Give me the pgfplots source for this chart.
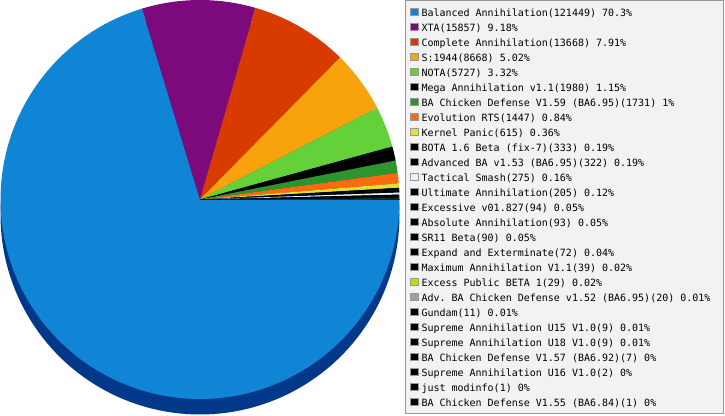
\documentclass[border=0pt]{standalone}
\usepackage{fontspec}
\setmonofont{DejaVu Sans Mono}
\usepackage{pgfplots}
\pgfplotsset{compat=1.18}
\usepackage{pgfplotstable}

\definecolor{cblue}{RGB}{16,133,213}
\definecolor{cshell}{RGB}{2,56,138}
\definecolor{cpurple}{RGB}{125,10,125}
\definecolor{cred}{RGB}{217,58,0}
\definecolor{corange}{RGB}{248,162,12}
\definecolor{cgreen}{RGB}{100,208,58}
\definecolor{cdgreen}{RGB}{46,148,46}
\definecolor{corangeb}{RGB}{255,106,16}
\definecolor{cyellow}{RGB}{224,224,48}
\definecolor{cwhite}{RGB}{240,240,240}
\definecolor{cygreen}{RGB}{190,224,0}
\definecolor{cgray}{RGB}{160,160,160}
\definecolor{cblack}{RGB}{0,0,0}
\definecolor{lgfill}{RGB}{242,242,242}
\definecolor{lgdraw}{RGB}{152,152,152}

% count and colour of each slice, in legend order
\pgfplotstableread{
count col
121449 cblue
15857 cpurple
13668 cred
8668 corange
5727 cgreen
1980 cblack
1731 cdgreen
1447 corangeb
615 cyellow
333 cblack
322 cblack
275 cwhite
205 cblack
94 cblack
93 cblack
90 cblack
72 cblack
39 cblack
29 cygreen
20 cgray
11 cblack
9 cblack
9 cblack
7 cblack
2 cblack
1 cblack
1 cblack
}\piedata

\def\total{0}
\pgfplotsforeachungrouped \i in {0,...,26}{%
  \pgfplotstablegetelem{\i}{count}\of\piedata
  \xdef\total{\fpeval{\total+\pgfplotsretval}}%
}
\def\cum{0}
\pgfplotsforeachungrouped \i in {0,...,26}{%
  \pgfplotstablegetelem{\i}{count}\of\piedata
  \edef\cnt{\pgfplotsretval}%
  \pgfplotstablegetelem{\i}{col}\of\piedata
  \colorlet{pc\i}{\pgfplotsretval}%
  \expandafter\xdef\csname phi\i\endcsname{\fpeval{round(360-360*\cum/\total,6)}}%
  \xdef\cum{\fpeval{\cum+\cnt}}%
  \expandafter\xdef\csname plo\i\endcsname{\fpeval{round(360-360*\cum/\total,6)}}%
  \expandafter\xdef\csname psamp\i\endcsname{\fpeval{max(2,ceil(180*\cnt/\total)+1)}}%
}

\begin{document}
\begin{tikzpicture}
\begin{axis}[
  at={(0,0)}, anchor=south west,
  scale only axis, width=725pt, height=415pt,
  xmin=0, xmax=725, ymin=0, ymax=415,
  hide axis, clip=false,
  legend style={at={(axis cs:410,409.5)}, anchor=north west,
    draw=none, fill=none, inner sep=0pt, row sep=0pt, column sep=0pt,
    font=\ttfamily\fontsize{10pt}{12pt}\selectfont,
    nodes={inner sep=0pt, text height=10.5pt, text depth=4.5pt}},
  legend cell align=left,
  legend image code/.code={%
    \filldraw[#1, draw=lgdraw, line width=1pt] (0.5pt,-2.5pt) rectangle (8pt,5pt);
    \path (0pt,0pt) -- (11.3pt,0pt);},
]
% legend box
\addplot[fill=lgfill, draw=lgdraw, line width=1pt, forget plot]
  coordinates {(405.5,1.5) (723.5,1.5) (723.5,414.5) (405.5,414.5) (405.5,1.5)};
% pie depth
\addplot[fill=cshell, draw=none, forget plot, domain=0:360, samples=181, variable=\t]
  ({200+199.5*cos(\t)},{200+199.5*sin(\t)}) -- cycle;
% slices
\pgfplotsinvokeforeach{0,...,26}{%
  \edef\tmp{\noexpand\addplot[fill=pc#1, draw=none,
    domain=\csname plo#1\endcsname:\csname phi#1\endcsname,
    samples=\csname psamp#1\endcsname, variable=\noexpand\t]
    ({200+199.5*cos(\noexpand\t)},{215.5+199.5*sin(\noexpand\t)}) -- (axis cs:200,215.5) -- cycle;}%
  \tmp
}
\legend{Balanced Annihilation(121449) 70.3\%,
XTA(15857) 9.18\%,
Complete Annihilation(13668) 7.91\%,
S:1944(8668) 5.02\%,
NOTA(5727) 3.32\%,
Mega Annihilation v1.1(1980) 1.15\%,
BA Chicken Defense V1.59 (BA6.95)(1731) 1\%,
Evolution RTS(1447) 0.84\%,
Kernel Panic(615) 0.36\%,
BOTA 1.6 Beta (fix-7)(333) 0.19\%,
Advanced BA v1.53 (BA6.95)(322) 0.19\%,
Tactical Smash(275) 0.16\%,
Ultimate Annihilation(205) 0.12\%,
Excessive v01.827(94) 0.05\%,
Absolute Annihilation(93) 0.05\%,
SR11 Beta(90) 0.05\%,
Expand and Exterminate(72) 0.04\%,
Maximum Annihilation V1.1(39) 0.02\%,
Excess Public BETA 1(29) 0.02\%,
Adv. BA Chicken Defense v1.52 (BA6.95)(20) 0.01\%,
Gundam(11) 0.01\%,
Supreme Annihilation U15 V1.0(9) 0.01\%,
Supreme Annihilation U18 V1.0(9) 0.01\%,
BA Chicken Defense V1.57 (BA6.92)(7) 0\%,
Supreme Annihilation U16 V1.0(2) 0\%,
just modinfo(1) 0\%,
BA Chicken Defense V1.55 (BA6.84)(1) 0\%}
\end{axis}
\pgfresetboundingbox
\path (0,0) rectangle (725pt,415pt);
\end{tikzpicture}
\end{document}
